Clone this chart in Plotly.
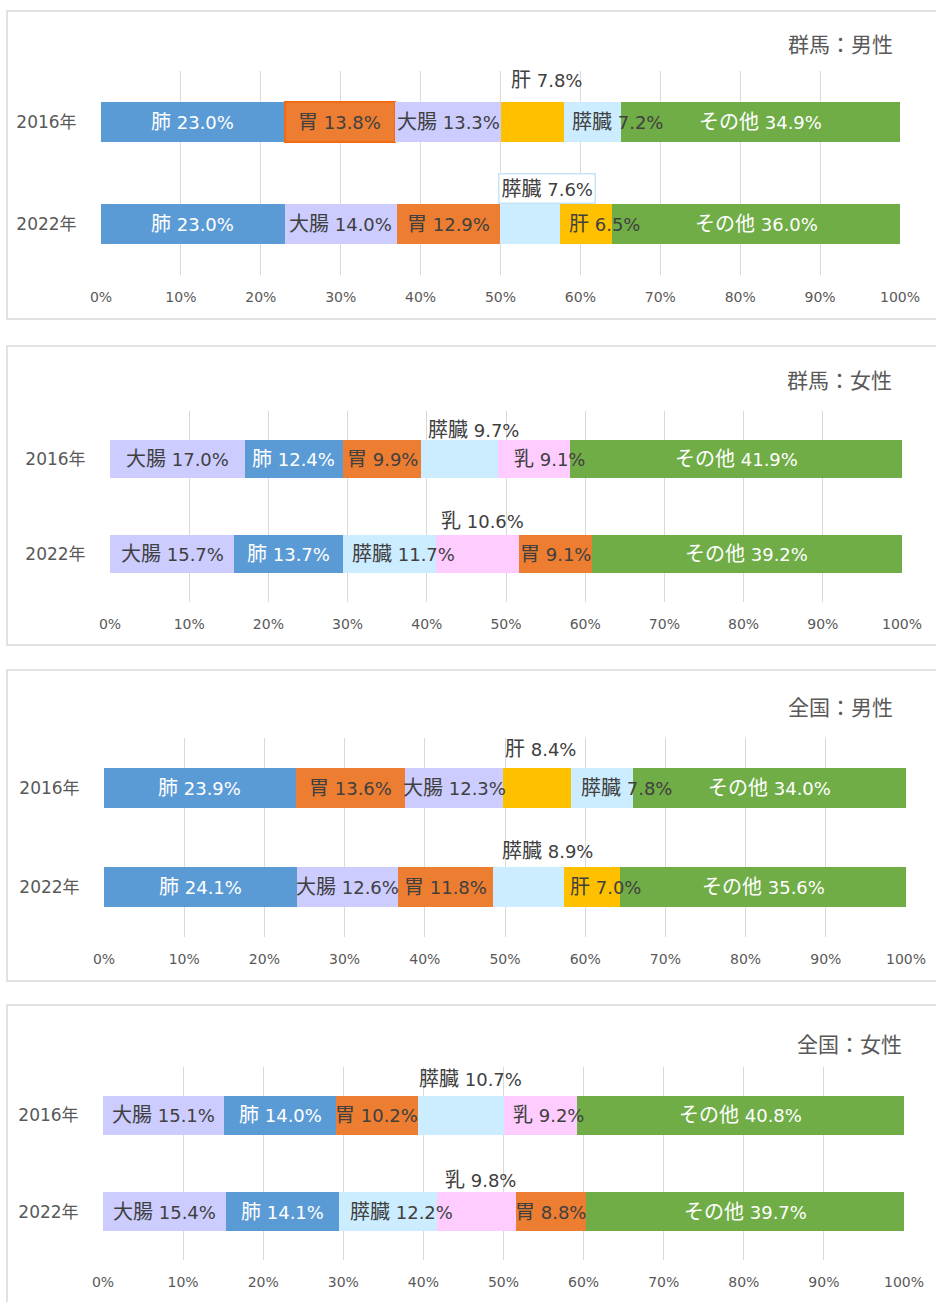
import plotly.graph_objects as go

W, H = 936, 1302

# ---------------- data ----------------
years = ["2016年", "2022年"]
titles = ["群馬：男性", "群馬：女性", "全国：男性", "全国：女性"]

gunma_m_2016_cats = ["肺", "胃", "大腸", "肝", "膵臓", "その他"]
gunma_m_2016_vals = [23.0, 13.8, 13.3, 7.8, 7.2, 34.9]
gunma_m_2022_cats = ["肺", "大腸", "胃", "膵臓", "肝", "その他"]
gunma_m_2022_vals = [23.0, 14.0, 12.9, 7.6, 6.5, 36.0]

gunma_f_2016_cats = ["大腸", "肺", "胃", "膵臓", "乳", "その他"]
gunma_f_2016_vals = [17.0, 12.4, 9.9, 9.7, 9.1, 41.9]
gunma_f_2022_cats = ["大腸", "肺", "膵臓", "乳", "胃", "その他"]
gunma_f_2022_vals = [15.7, 13.7, 11.7, 10.6, 9.1, 39.2]

japan_m_2016_cats = ["肺", "胃", "大腸", "肝", "膵臓", "その他"]
japan_m_2016_vals = [23.9, 13.6, 12.3, 8.4, 7.8, 34.0]
japan_m_2022_cats = ["肺", "大腸", "胃", "膵臓", "肝", "その他"]
japan_m_2022_vals = [24.1, 12.6, 11.8, 8.9, 7.0, 35.6]

japan_f_2016_cats = ["大腸", "肺", "胃", "膵臓", "乳", "その他"]
japan_f_2016_vals = [15.1, 14.0, 10.2, 10.7, 9.2, 40.8]
japan_f_2022_cats = ["大腸", "肺", "膵臓", "乳", "胃", "その他"]
japan_f_2022_vals = [15.4, 14.1, 12.2, 9.8, 8.8, 39.7]

panels_data = [
    [(gunma_m_2016_cats, gunma_m_2016_vals), (gunma_m_2022_cats, gunma_m_2022_vals)],
    [(gunma_f_2016_cats, gunma_f_2016_vals), (gunma_f_2022_cats, gunma_f_2022_vals)],
    [(japan_m_2016_cats, japan_m_2016_vals), (japan_m_2022_cats, japan_m_2022_vals)],
    [(japan_f_2016_cats, japan_f_2016_vals), (japan_f_2022_cats, japan_f_2022_vals)],
]

# ---------------- style ----------------
FONT = "DejaVu Sans, Noto Sans CJK JP"
CJK = "Noto Sans CJK JP"
colors = {"肺": "#5B9BD5", "胃": "#ED7D31", "大腸": "#CCCCFF", "肝": "#FFC000",
          "膵臓": "#CCECFF", "乳": "#FFCCFF", "その他": "#70AD47"}
white_text = {"肺", "その他"}
DARK = "#404040"
GRAY = "#595959"

# pixel geometry of each panel
geom = [
    dict(top=11, bottom=319, x0=101, x1=900, yt=71, yb=275, ty=43, tx=895),
    dict(top=346, bottom=645, x0=110, x1=902, yt=411, yb=602, ty=379, tx=894),
    dict(top=670, bottom=981, x0=104, x1=906, yt=738, yb=937, ty=706, tx=895),
    dict(top=1005, bottom=1310, x0=103, x1=904, yt=1067, yb=1260, ty=1043, tx=904),
]

# label placement tweaks: (panel, row, category) -> (dx in %, dy in px, boxed)
label_adj = {
    (0, 0, "肝"): (1.8, 42, False),
    (0, 0, "膵臓"): (3.2, 0, False),
    (0, 1, "膵臓"): (2.1, 35, True),
    (0, 1, "肝"): (2.3, 0, False),
    (1, 0, "膵臓"): (1.7, 29, False),
    (1, 0, "乳"): (2.0, 0, False),
    (1, 1, "乳"): (0.6, 33, False),
    (1, 1, "膵臓"): (1.8, 0, False),
    (2, 0, "肝"): (0.4, 39, False),
    (2, 0, "膵臓"): (3.1, 0, False),
    (2, 1, "膵臓"): (2.4, 36, False),
    (2, 1, "肝"): (1.6, 0, False),
    (3, 0, "膵臓"): (1.2, 36, False),
    (3, 0, "乳"): (1.0, 0, False),
    (3, 1, "乳"): (0.5, 32, False),
    (3, 1, "膵臓"): (1.7, 0, False),
}
outlined = {(0, 0, "胃"): "#F46A12"}

fig = go.Figure()
annotations = []
shapes = []
layout_axes = {}

for p, rows in enumerate(panels_data):
    g = geom[p]
    xa = f"x{p + 1}" if p else "x"
    ya = f"y{p + 1}" if p else "y"
    nseg = len(rows[0][0])
    for k in range(nseg):
        line_w = []
        line_c = []
        for r in range(2):
            cat = rows[r][0][k]
            oc = outlined.get((p, r, cat))
            line_w.append(2 if oc else 0)
            line_c.append(oc if oc else colors[cat])
        fig.add_trace(go.Bar(
            orientation="h",
            x=[rows[0][1][k], rows[1][1][k]],
            y=years,
            width=0.4,
            marker=dict(color=[colors[rows[0][0][k]], colors[rows[1][0][k]]],
                        line=dict(width=line_w, color=line_c)),
            xaxis=xa, yaxis=ya,
            hoverinfo="skip",
            showlegend=False,
        ))
    # labels
    for r in range(2):
        cats, vals = rows[r]
        start = 0.0
        for cat, v in zip(cats, vals):
            dx, dy, boxed = label_adj.get((p, r, cat), (0.0, 0, False))
            inside = dy == 0
            color = "white" if (cat in white_text and inside) else DARK
            ann = dict(
                x=start + v / 2 + dx, y=years[r], xref=xa, yref=ya,
                text=f'<span style="font-size:20px">{cat}</span> {v:.1f}%',
                showarrow=False, yshift=dy,
                xanchor="center", yanchor="middle",
                font=dict(family=FONT, size=18, color=color),
            )
            if boxed:
                ann.update(bordercolor="#C5E6F8", borderwidth=1.5, borderpad=2,
                           bgcolor="white")
            annotations.append(ann)
            start += v
    # title
    annotations.append(dict(
        x=g["tx"] / W, y=1 - g["ty"] / H, xref="paper", yref="paper",
        text=titles[p], showarrow=False, xanchor="right", yanchor="middle",
        font=dict(family=CJK, size=21, color=GRAY),
    ))
    # panel border
    shapes.append(dict(
        type="rect", xref="paper", yref="paper",
        x0=7 / W, x1=1.01, y0=1 - g["bottom"] / H, y1=1 - g["top"] / H,
        line=dict(color="#D9D9D9", width=1.5), fillcolor="rgba(0,0,0,0)",
        layer="below",
    ))
    xkey = f"xaxis{p + 1}" if p else "xaxis"
    ykey = f"yaxis{p + 1}" if p else "yaxis"
    layout_axes[xkey] = dict(
        domain=[g["x0"] / W, g["x1"] / W], anchor=ya, range=[0, 100],
        dtick=10, tick0=0, ticksuffix="%", showgrid=True, gridcolor="#D9D9D9",
        gridwidth=1.3, zeroline=False, showline=False, automargin=False,
        ticks="outside", ticklen=9, tickcolor="rgba(0,0,0,0)",
        tickfont=dict(family=FONT, size=14, color=GRAY), fixedrange=True,
    )
    layout_axes[ykey] = dict(
        domain=[1 - g["yb"] / H, 1 - g["yt"] / H], anchor=xa,
        type="category", categoryorder="array", categoryarray=years,
        range=[1.5, -0.5], showgrid=False, zeroline=False, showline=False,
        automargin=False,
        ticks="outside", ticklen=20, tickcolor="rgba(0,0,0,0)",
        tickfont=dict(family=FONT, size=17, color=GRAY), fixedrange=True,
    )

fig.update_layout(
    width=W, height=H, margin=dict(l=0, r=0, t=0, b=0, autoexpand=False),
    autosize=False,
    barmode="stack", bargap=0.6,
    paper_bgcolor="white", plot_bgcolor="white",
    showlegend=False,
    annotations=annotations, shapes=shapes,
    font=dict(family=FONT),
    **layout_axes,
)

fig.write_html(
    "out.html",
    config={"responsive": False, "displayModeBar": False},
    post_script="document.body.style.margin='0';document.body.style.overflow='hidden';",
)
